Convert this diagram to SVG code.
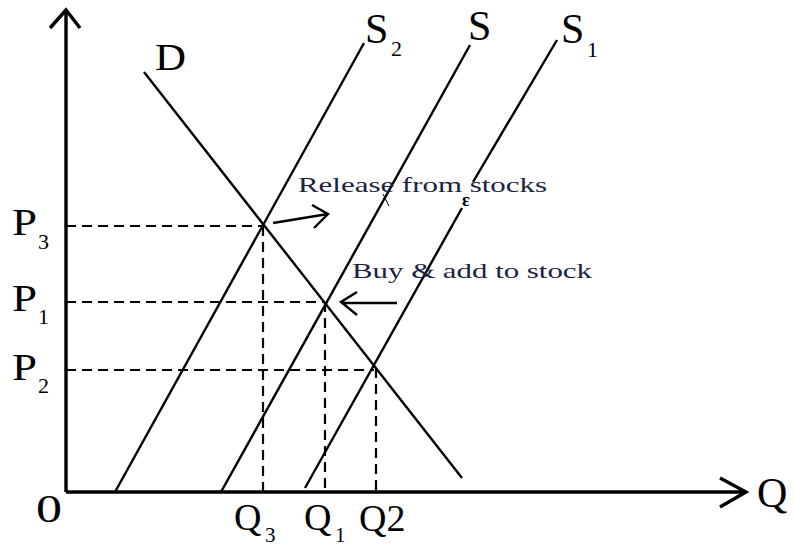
<svg xmlns="http://www.w3.org/2000/svg" width="795" height="547" viewBox="0 0 795 547">
<style>
.ax{stroke:#000;stroke-width:3.4;fill:none}
.ln{stroke:#000;stroke-width:2.4;fill:none}
.da{stroke:#000;stroke-width:2.2;fill:none;stroke-dasharray:10 6}
.ar{stroke:#000;stroke-width:2.4;fill:none}
.lb{font-family:"Liberation Serif","Times New Roman",serif;fill:#000}
.nt{font-family:"Liberation Serif","Times New Roman",serif;fill:#1c2340;font-size:21px}
</style>
<rect width="795" height="547" fill="#fff"/>
<g id="axes">
<path class="ax" d="M66,492 V10 M50,28 L66,10 L80,28"/>
<path class="ax" d="M66,492 H746 M720,478 L746,492 L720,507"/>
</g>
<g id="connectors">
<g id="demand"><path class="ln" d="M144,72 L462,478"/></g>
<g id="supply-s2"><path class="ln" d="M364,43 L115,492"/></g>
<g id="supply-s"><path class="ln" d="M470,45 L221,492"/></g>
<g id="supply-s1"><path class="ln" d="M557,40 L473,182 M462,208 L305,488"/></g>
<g id="guides">
<path class="da" d="M66,226 H263 M66,302 H325 M66,370 H374"/>
<path class="da" d="M263,226 V492 M325,302 V492 M376,368 V492"/>
</g>
<g id="arrows">
<path class="ar" d="M273,223 L328,214 M312,205 L328,214 L314,228"/>
<path class="ar" d="M397,303 H341 M357,292 L341,302 L357,315"/>
<path stroke="#000" stroke-width="1" d="M383,194 L389,206"/>
</g>
</g>
<g id="labels">
<text class="lb" x="36" y="522" font-size="40" textLength="26" lengthAdjust="spacingAndGlyphs">0</text>
<text class="lb" x="757" y="507" font-size="42">Q</text>
<g id="p3"><text class="lb" x="12" y="235" font-size="38" textLength="25" lengthAdjust="spacingAndGlyphs">P</text><text class="lb" x="38" y="249" font-size="22">3</text></g>
<g id="p1"><text class="lb" x="12" y="311" font-size="38" textLength="25" lengthAdjust="spacingAndGlyphs">P</text><text class="lb" x="38" y="324" font-size="22">1</text></g>
<g id="p2"><text class="lb" x="12" y="380" font-size="38" textLength="25" lengthAdjust="spacingAndGlyphs">P</text><text class="lb" x="38" y="393" font-size="22">2</text></g>
<g id="q3"><text class="lb" x="234" y="530" font-size="38">Q</text><text class="lb" x="265" y="542" font-size="21">3</text></g>
<g id="q1"><text class="lb" x="304" y="530" font-size="38">Q</text><text class="lb" x="335" y="542" font-size="21">1</text></g>
<g id="q2"><text class="lb" x="359" y="531" font-size="38">Q2</text></g>
<g id="d"><text class="lb" x="155" y="70" font-size="38" textLength="31" lengthAdjust="spacingAndGlyphs">D</text></g>
<g id="s2"><text class="lb" x="365" y="43" font-size="42">S</text><text class="lb" x="391" y="56" font-size="22">2</text></g>
<g id="s"><text class="lb" x="468" y="40" font-size="42">S</text></g>
<g id="s1"><text class="lb" x="561" y="43" font-size="42">S</text><text class="lb" x="587" y="57" font-size="22">1</text></g>
<text class="nt" x="298" y="192" textLength="249" lengthAdjust="spacingAndGlyphs">Release from stocks</text>
<text class="nt" x="352" y="278" textLength="240" lengthAdjust="spacingAndGlyphs">Buy &amp; add to stock</text>
<text class="lb" x="462" y="206" font-size="18" font-weight="bold">ɛ</text>
</g>
</svg>
